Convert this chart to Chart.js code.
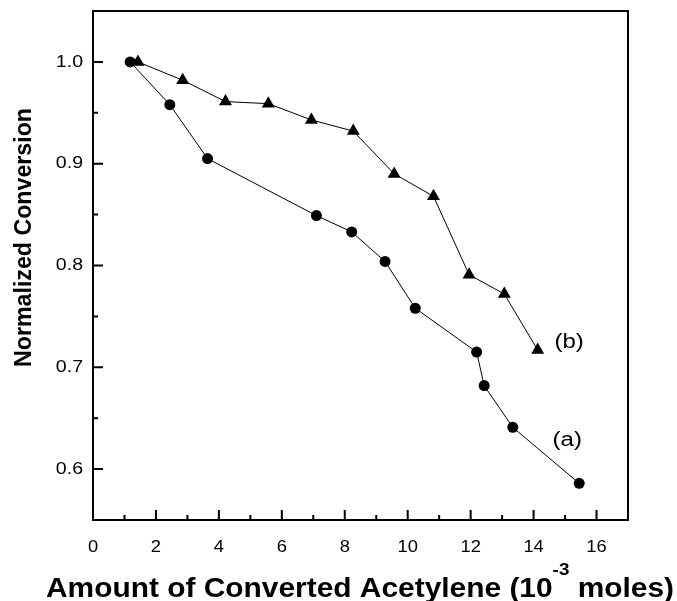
<!DOCTYPE html>
<html lang="en">
  <head>
    <meta charset="UTF-8" />
    <title>Normalized Conversion</title>
    <style>
      body { margin: 0; background: #fff; }
      #wrap { width: 677px; height: 601px; }
    </style>
  </head>
  <body>
    <div id="wrap"><canvas id="chart"></canvas></div>

    <script src="https://cdn.jsdelivr.net/npm/chart.js"></script>
    <script>
      // curve (a) - circles
      const amountA = [1.18, 2.44, 3.64, 7.10, 8.22, 9.28, 10.24, 12.19, 12.43, 13.34, 15.45];
      const conversionA = [1.0, 0.958, 0.905, 0.849, 0.833, 0.804, 0.758, 0.715, 0.682, 0.641, 0.586];
      // curve (b) - triangles
      const amountB = [1.43, 2.85, 4.21, 5.57, 6.94, 8.27, 9.57, 10.82, 11.95, 13.07, 14.13];
      const conversionB = [1.0, 0.982, 0.961, 0.959, 0.943, 0.932, 0.890, 0.868, 0.791, 0.772, 0.717];

      const xTicks = [0, 2, 4, 6, 8, 10, 12, 14, 16];
      const yTicks = [0.6, 0.7, 0.8, 0.9, 1.0];
      const xMinorTicks = [1, 3, 5, 7, 9, 11, 13, 15, 17];
      const yMinorTicks = [0.55, 0.65, 0.75, 0.85, 0.95, 1.05];

      // curve labels, in data units
      const curveLabels = ["(a)", "(b)"];
      const curveLabelX = [15.07, 15.13];
      const curveLabelY = [0.628, 0.724];

      const toPoints = (xs, ys) => xs.map((x, i) => ({ x: x, y: ys[i] }));
      const FONT = "'Liberation Sans', Arial, sans-serif";

      // text drawn a bit wider than the font, like the original figure
      function wideText(ctx, text, x, y, sx, align) {
        ctx.save();
        ctx.translate(x, y);
        ctx.scale(sx, 1);
        ctx.textAlign = align;
        ctx.fillText(text, 0, 0);
        ctx.restore();
      }

      // frame, inward ticks, tick labels, titles and curve labels
      const decor = {
        id: "decor",
        afterDraw(chart) {
          const ctx = chart.ctx;
          const a = chart.chartArea;
          const xs = chart.scales.x;
          const ys = chart.scales.y;
          ctx.save();
          ctx.strokeStyle = "#000";
          ctx.lineWidth = 2;
          ctx.strokeRect(a.left, a.top, a.right - a.left, a.bottom - a.top);

          ctx.beginPath();
          xTicks.forEach((v) => {
            const px = xs.getPixelForValue(v);
            ctx.moveTo(px, a.bottom);
            ctx.lineTo(px, a.bottom - 10);
          });
          xMinorTicks.forEach((v) => {
            const px = xs.getPixelForValue(v);
            ctx.moveTo(px, a.bottom);
            ctx.lineTo(px, a.bottom - 5);
          });
          yTicks.forEach((v) => {
            const py = ys.getPixelForValue(v);
            ctx.moveTo(a.left, py);
            ctx.lineTo(a.left + 10, py);
          });
          yMinorTicks.forEach((v) => {
            const py = ys.getPixelForValue(v);
            ctx.moveTo(a.left, py);
            ctx.lineTo(a.left + 5, py);
          });
          ctx.stroke();

          ctx.fillStyle = "#000";

          // tick labels
          ctx.font = "17px " + FONT;
          ctx.textBaseline = "middle";
          xTicks.forEach((v) => {
            wideText(ctx, String(v), xs.getPixelForValue(v), 547, 1.08, "center");
          });
          yTicks.forEach((v) => {
            wideText(ctx, v.toFixed(1), a.left - 10, ys.getPixelForValue(v), 1.15, "right");
          });

          // y title
          ctx.save();
          ctx.font = "bold 24px " + FONT;
          const yt = "Normalized Conversion";
          const ysx = 259 / ctx.measureText(yt).width;
          ctx.translate(31, 237.5);
          ctx.rotate(-Math.PI / 2);
          ctx.scale(ysx, 1);
          ctx.textAlign = "center";
          ctx.textBaseline = "alphabetic";
          ctx.fillText(yt, 0, 0);
          ctx.restore();

          // x title with superscript
          ctx.save();
          const big = "bold 27px " + FONT;
          const small = "bold 17px " + FONT;
          const p1 = "Amount of Converted Acetylene (10";
          const sup = "-3";
          const p2 = " moles)";
          ctx.font = big;
          const w1 = ctx.measureText(p1).width;
          const w3 = ctx.measureText(p2).width;
          ctx.font = small;
          const w2 = ctx.measureText(sup).width;
          const sx = 628 / (w1 + w2 + w3);
          ctx.translate(46, 597);
          ctx.scale(sx, 1);
          ctx.textAlign = "left";
          ctx.textBaseline = "alphabetic";
          ctx.font = big;
          ctx.fillText(p1, 0, 0);
          ctx.font = small;
          ctx.fillText(sup, w1, -22);
          ctx.font = big;
          ctx.fillText(p2, w1 + w2, 0);
          ctx.restore();

          // (a) / (b)
          ctx.font = "20px " + FONT;
          ctx.textBaseline = "middle";
          curveLabels.forEach((t, i) => {
            wideText(ctx, t, xs.getPixelForValue(curveLabelX[i]), ys.getPixelForValue(curveLabelY[i]), 1.2, "center");
          });
          ctx.restore();
        },
      };

      new Chart(document.getElementById("chart").getContext("2d"), {
        type: "scatter",
        data: {
          datasets: [
            {
              label: "(a)",
              data: toPoints(amountA, conversionA),
              showLine: true,
              borderColor: "#000",
              borderWidth: 1,
              backgroundColor: "#000",
              pointStyle: "circle",
              pointRadius: 5.5,
              pointBorderWidth: 0,
            },
            {
              label: "(b)",
              data: toPoints(amountB, conversionB),
              showLine: true,
              borderColor: "#000",
              borderWidth: 1,
              backgroundColor: "#000",
              pointStyle: "triangle",
              pointRadius: 7.5,
              pointBorderWidth: 0,
            },
          ],
        },
        options: {
          responsive: true,
          maintainAspectRatio: false,
          devicePixelRatio: 1,
          animation: false,
          layout: { padding: { top: 11, right: 49, left: 0, bottom: 0 } },
          plugins: {
            legend: { display: false },
            tooltip: { enabled: false },
          },
          scales: {
            x: {
              type: "linear",
              min: 0,
              max: 17,
              grid: { display: false, drawTicks: false },
              border: { display: false },
              afterBuildTicks: (s) => { s.ticks = xTicks.map((v) => ({ value: v })); },
              afterFit: (s) => { s.height = 81; },
              ticks: { display: false },
            },
            y: {
              type: "linear",
              min: 0.55,
              max: 1.05,
              grid: { display: false, drawTicks: false },
              border: { display: false },
              afterBuildTicks: (s) => { s.ticks = yTicks.map((v) => ({ value: v })); },
              afterFit: (s) => { s.width = 93; },
              ticks: { display: false },
            },
          },
        },
        plugins: [decor],
      });
    </script>
  </body>
</html>
